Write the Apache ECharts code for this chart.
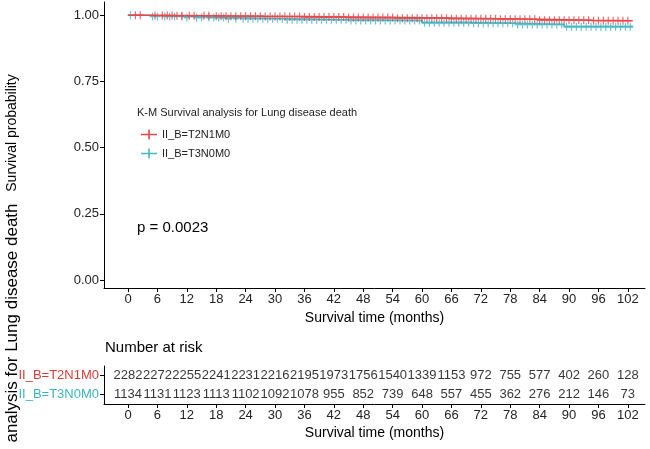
<!DOCTYPE html>
<html><head><meta charset="utf-8">
<script src="https://cdn.jsdelivr.net/npm/echarts@6/dist/echarts.min.js"></script>
<style>html,body{margin:0;padding:0;background:#fff}#c{width:650px;height:449px}</style>
</head><body><div id="c"></div>
<script>
const groups = ['II_B=T2N1M0', 'II_B=T3N0M0'];
const tickMonths = [0, 6, 12, 18, 24, 30, 36, 42, 48, 54, 60, 66, 72, 78, 84, 90, 96, 102];
const yTicks = [0, 0.25, 0.5, 0.75, 1];

// Kaplan-Meier step curves (time, survival)
const redTimes = [0, 3, 10, 18, 28, 36, 45, 55, 66, 76, 84, 95, 103];
const redSurv  = [1, 0.999, 0.998, 0.996, 0.995, 0.993, 0.991, 0.989, 0.987, 0.985, 0.981, 0.979, 0.979];
const tealTimes = [0, 4, 12, 20, 32, 45, 60, 70, 79, 89, 103];
const tealSurv  = [1, 0.995, 0.991, 0.987, 0.983, 0.980, 0.972, 0.970, 0.965, 0.957, 0.957];

// censoring times
const redCensor = [1.5, 2.5, 5.5, 7, 8, 9, 10, 11, 12.5, 13.5, 15.5, 16.5, 18, 19, 20, 21, 22, 23, 24,
  25, 26, 27, 28, 29, 30, 31, 32, 33, 34, 35, 36, 37, 38, 39, 40, 41, 42, 43, 44, 45, 46, 47, 48, 49, 50,
  51, 52, 53, 54, 55, 56, 57, 58, 59, 60, 61, 62, 63, 64, 65, 66, 67, 68, 69, 70, 71, 72, 73, 74, 75, 76,
  77, 78, 79, 80, 81, 82, 83, 84, 85, 86, 87, 88, 89, 90, 91, 92, 93, 94, 95, 96, 97, 98, 99, 100, 101, 102];
const tealCensor = [0.5, 5, 6, 7.5, 8.5, 9.5, 11, 12, 14, 15, 16.5, 17.5, 18.5, 19.5, 20.5, 22, 23.5,
  24.5, 25.5, 26.5, 27.5, 28.5, 29.5, 30.5, 31.5, 32.5, 33.5, 34.5, 35.5, 36.5, 37.5, 38.5, 39.5, 40.5,
  41.5, 42.5, 43.5, 44.5, 45.5, 46.5, 47.5, 48.5, 49.5, 50.5, 51.5, 52.5, 53.5, 54.5, 55.5, 56.5, 57.5,
  58.5, 59.5, 60.5, 61.5, 62.5, 63.5, 64.5, 65.5, 66.5, 67.5, 68.5, 69.5, 70.5, 71.5, 72.5, 73.5, 74.5,
  75.5, 76.5, 77.5, 78.5, 79.5, 80.5, 81.5, 82.5, 83.5, 84.5, 85.5, 86.5, 87.5, 88.5, 89.5, 90.5, 91.5,
  92.5, 93.5, 94.5, 95.5, 96.5, 97.5, 98.5, 99.5, 100.5, 101.5, 102.5];

// number at risk
const redRisk  = [2282, 2272, 2255, 2241, 2231, 2216, 2195, 1973, 1756, 1540, 1339, 1153, 972, 755, 577, 402, 260, 128];
const tealRisk = [1134, 1131, 1123, 1113, 1102, 1092, 1078, 955, 852, 739, 648, 557, 455, 362, 276, 212, 146, 73];

const legendTitle = 'K-M Survival analysis for Lung disease death';
const pText = 'p = 0.0023';

const RED = '#E8474A', TEAL = '#45B7C5';
const RED_TXT = '#DA3B36', TEAL_TXT = '#3BB5BF';
const FONT = '"Liberation Sans", Arial, sans-serif';

function stepAt(times, surv, t) {
  let s = surv[0];
  for (let i = 0; i < times.length; i++) { if (times[i] <= t) s = surv[i]; }
  return s;
}
const redLine = redTimes.map((t, i) => [t, redSurv[i]]);
const tealLine = tealTimes.map((t, i) => [t, tealSurv[i]]);
const redC = redCensor.map(t => [t, stepAt(redTimes, redSurv, t)]);
const tealC = tealCensor.map(t => [t, stepAt(tealTimes, tealSurv, t)]);

const plusPath = 'path://M4,0H6V4H10V6H6V10H4V6H0V4H4Z';
const legendIcon = 'path://M0,4.2H7.2V0H8.8V4.2H16V5.8H8.8V10H7.2V5.8H0Z';

const axisLine = { show: true, onZero: false, lineStyle: { color: '#000', width: 1 } };
const axisTick = { show: true, length: 4, lineStyle: { color: '#000' } };

function xAxis(gridIndex) {
  return {
    type: 'value', gridIndex, min: -4.9, max: 105.5,
    axisLine, splitLine: { show: false },
    axisTick: Object.assign({ customValues: tickMonths }, axisTick),
    axisLabel: { customValues: tickMonths, color: '#222', fontSize: 13, fontFamily: FONT, margin: 5 },
    name: 'Survival time (months)', nameLocation: 'middle', nameGap: 22,
    nameTextStyle: { color: '#000', fontSize: 14, fontFamily: FONT }
  };
}

const riskData = [];
tickMonths.forEach((m, i) => {
  riskData.push([m, groups[0], redRisk[i]]);
  riskData.push([m, groups[1], tealRisk[i]]);
});

const option = {
  animation: false,
  backgroundColor: '#fff',
  grid: [
    { left: 104, right: 5, top: 2, height: 286 },
    { left: 104, right: 5, top: 366, height: 38 }
  ],
  xAxis: [xAxis(0), xAxis(1)],
  yAxis: [
    {
      type: 'value', gridIndex: 0, min: -0.03, max: 1.05,
      axisLine, splitLine: { show: false },
      axisTick: Object.assign({ customValues: yTicks }, axisTick),
      axisLabel: { customValues: yTicks, formatter: v => v.toFixed(2), color: '#222', fontSize: 13, fontFamily: FONT, margin: 5 }
    },
    {
      type: 'category', gridIndex: 1, data: groups, inverse: true,
      axisLine, splitLine: { show: false },
      axisTick: { show: true, length: 4, alignWithLabel: true, lineStyle: { color: '#000' } },
      axisLabel: { fontSize: 13, fontFamily: FONT, margin: 5,
        color: (v, i) => (v === groups[0] ? RED_TXT : TEAL_TXT) }
    }
  ],
  legend: {
    orient: 'vertical', left: 136, top: 124, itemWidth: 16, itemHeight: 10, itemGap: 8,
    data: [{ name: groups[0], icon: legendIcon }, { name: groups[1], icon: legendIcon }],
    textStyle: { fontSize: 11, fontFamily: FONT, color: '#222' }
  },
  graphic: [
    { type: 'text', left: 137, top: 107, style: { text: legendTitle, fontSize: 11, fontFamily: FONT, fill: '#222' } },
    { type: 'text', left: 137, top: 220, style: { text: pText, fontSize: 15, fontFamily: FONT, fill: '#000' } },
    { type: 'text', left: 105, top: 340, style: { text: 'Number at risk', fontSize: 15, fontFamily: FONT, fill: '#000' } },
    { type: 'text', x: 12, y: 133, rotation: Math.PI / 2, style: { text: 'Survival probability', fontSize: 14, fontFamily: FONT, fill: '#000', align: 'center', verticalAlign: 'middle' } },
    { type: 'text', x: 12, y: 323, rotation: Math.PI / 2, style: { text: 'analysis for Lung disease death', fontSize: 17, fontFamily: FONT, fill: '#000', align: 'center', verticalAlign: 'middle' } }
  ],
  series: [
    { name: groups[0], type: 'line', step: 'end', xAxisIndex: 0, yAxisIndex: 0, data: redLine, showSymbol: false, color: RED, lineStyle: { width: 1.6, color: RED }, z: 3 },
    { name: groups[1], type: 'line', step: 'end', xAxisIndex: 0, yAxisIndex: 0, data: tealLine, showSymbol: false, color: TEAL, lineStyle: { width: 1.6, color: TEAL }, z: 2 },
    { name: groups[0], type: 'scatter', xAxisIndex: 0, yAxisIndex: 0, data: redC, symbol: plusPath, symbolSize: [6, 8], itemStyle: { color: RED }, z: 3 },
    { name: groups[1], type: 'scatter', xAxisIndex: 0, yAxisIndex: 0, data: tealC, symbol: plusPath, symbolSize: [6, 8], itemStyle: { color: TEAL }, z: 2 },
    {
      type: 'scatter', xAxisIndex: 1, yAxisIndex: 1, data: riskData, symbolSize: 1,
      itemStyle: { color: 'rgba(0,0,0,0)' },
      label: { show: true, position: 'inside', formatter: p => String(p.value[2]), color: '#000', fontSize: 13, fontFamily: FONT }
    }
  ]
};
const chart = echarts.init(document.getElementById('c'), null, { renderer: 'canvas' });
chart.setOption(option);
</script>
</body></html>
